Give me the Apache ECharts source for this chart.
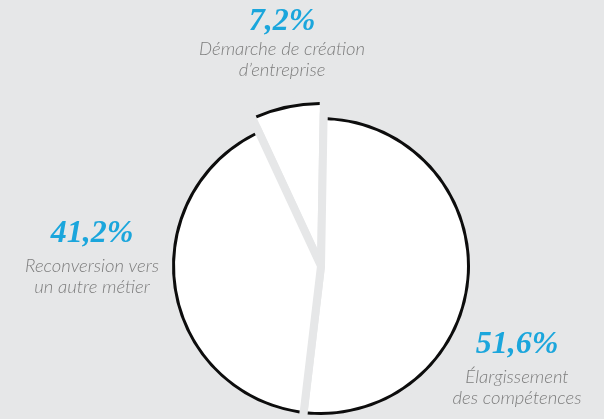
<!DOCTYPE html>
<html>
<head>
<meta charset="utf-8">
<script src="https://cdn.jsdelivr.net/npm/echarts@6/dist/echarts.min.js"></script>
<style>
  html, body { margin: 0; padding: 0; background: #e6e7e8; }
  #chart { width: 604px; height: 419px; }
</style>
</head>
<body>
<div id="chart"></div>
<script>
// 数据
const categories = ['Élargissement\ndes compétences', 'Reconversion vers\nun autre métier', 'Démarche de création\nd’entreprise'];
const shares = [51.6, 41.2, 7.2];

// 样式常量
const BG = '#e6e7e8';
const CENTER = [321, 266];
const RAISED = 2; // 突出显示的扇区 (半径更大)
const LABEL_POS = [[517, 323], [92, 212], [282, 5]]; // 标签块顶部中心

function slices(show, style) {
    return categories.map((name, i) => ({
        name: name,
        value: shares[i],
        itemStyle: show(i) ? style : { color: 'transparent', borderWidth: 0 }
    }));
}

const fill = { color: '#ffffff', borderColor: BG, borderWidth: 8, borderJoin: 'round' };
const ring = { color: '#0d0d0d', borderWidth: 0 };

const base = {
    type: 'pie',
    center: CENTER,
    startAngle: 89,
    clockwise: true,
    silent: true,
    avoidLabelOverlap: false,
    label: { show: false },
    labelLine: { show: false },
    emphasis: { disabled: true }
};

const chart = echarts.init(document.getElementById('chart'));
chart.setOption({
    backgroundColor: BG,
    animation: false,
    series: [
        // 突出扇区 (白色填充)
        Object.assign({}, base, {
            radius: 167,
            data: slices(i => i === RAISED, fill)
        }),
        // 其余扇区 (白色填充) + 标签
        Object.assign({}, base, {
            radius: 152,
            data: slices(i => i !== RAISED, fill),
            label: {
                show: true,
                position: 'outside',
                formatter: function (p) {
                    const pct = p.value.toFixed(1).replace('.', ',') + '%';
                    const key = p.dataIndex === RAISED ? 'q' : 'p';
                    const lines = p.name.split('\n').map(s => '{n|' + s + '}');
                    return '{' + key + '|' + pct + '}\n' + lines.join('\n');
                },
                rich: {
                    p: {
                        fontFamily: '"Liberation Serif", serif', fontStyle: 'italic', fontWeight: 'bold',
                        fontSize: 32, color: '#1ba6dc', lineHeight: 44, align: 'center'
                    },
                    q: {
                        fontFamily: '"Liberation Serif", serif', fontStyle: 'italic', fontWeight: 'bold',
                        fontSize: 32, color: '#1ba6dc', lineHeight: 34, align: 'center'
                    },
                    n: {
                        fontFamily: 'Lato, sans-serif', fontStyle: 'italic', fontWeight: 300,
                        fontSize: 18.5, color: '#7d7d7d', lineHeight: 21, align: 'center'
                    }
                }
            },
            labelLayout: function (params) {
                const pos = LABEL_POS[params.dataIndex];
                return { x: pos[0], y: pos[1], align: 'center', verticalAlign: 'top' };
            }
        }),
        // 外圈黑线
        Object.assign({}, base, {
            radius: [146, 149],
            padAngle: 3.2,
            data: slices(i => i !== RAISED, ring)
        }),
        Object.assign({}, base, {
            radius: [161, 164],
            padAngle: 2.9,
            data: slices(i => i === RAISED, ring)
        })
    ]
});
</script>
</body>
</html>
